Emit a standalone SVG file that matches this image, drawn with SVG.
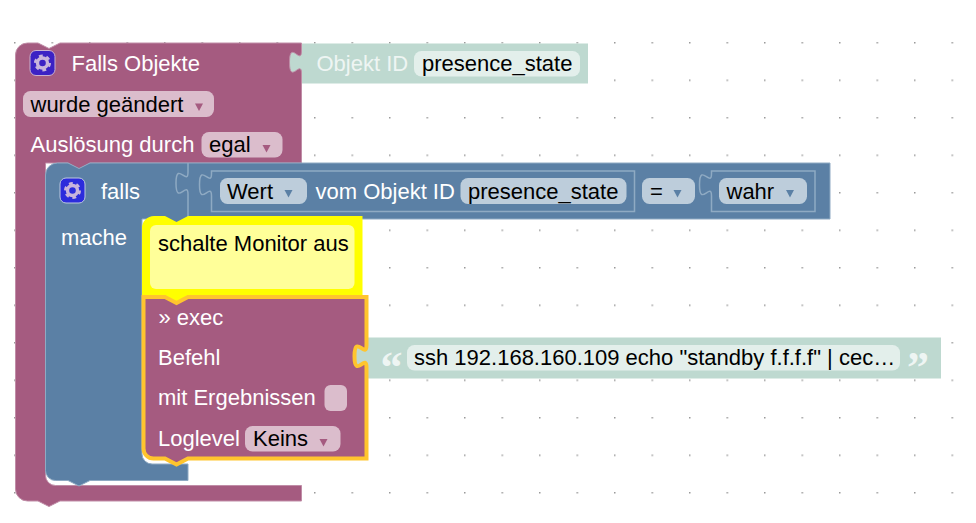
<svg xmlns="http://www.w3.org/2000/svg" width="976" height="523" viewBox="0 0 976 523">
<style>
text{font-family:"Liberation Sans",Arial,sans-serif;font-size:22px;fill:#000}
.w{fill:#fff}
.pf{fill:#dbbdcc}
.bf{fill:#bdcddb}
.gf{fill:#e3efeb}
.pa{fill:#a55b80}
.ba{fill:#5b80a5}
.hl{fill:none;stroke:#8faac3;stroke-width:1.5}
.q{font-family:"Liberation Serif",serif;font-weight:bold;font-size:44px;fill:#fff;opacity:.75}
</style>
<defs>
<pattern id="grid" x="14" y="42" width="37.5" height="37.5" patternUnits="userSpaceOnUse">
<rect x="0" y="0" width="1.5" height="1.5" fill="#999"/>
</pattern>
<g id="gear">
<circle r="5" fill="none" stroke="#c8b4dc" stroke-width="3.4"/>
<circle r="7.2" fill="none" stroke="#c8b4dc" stroke-width="2.6" stroke-dasharray="3.8 3.74"/>
</g>
</defs>
<rect id="grid-dots" x="14" y="42" width="940" height="453" fill="url(#grid)"/>

<g id="connectors"></g>

<g id="objekt-id">
<rect x="286" y="43.5" width="302" height="40" fill="#bed9d0"/>
<text x="316.5" y="71" class="w" opacity=".75">Objekt ID</text>
<rect x="414" y="51" width="166" height="25.5" rx="7.5" class="gf"/>
<text x="422" y="71">presence_state</text>
</g>

<g id="falls-objekte">
<path d="M15.5 55a12 12 0 0 1 12-12H38l11 5.500 11-5.500H301.500v8c0 15-12-12-12 11.250s12-3.750 12 11.250V163H90l-11 6-11-6H45.500V475.500a10 10 0 0 0 10 10H301.500V501H60l-11 5.500-11-5.500H27.500a12 12 0 0 1-12-12Z" fill="#a55b80" stroke="#c08da7" stroke-width="1"/>
<rect x="30" y="50.500" width="25" height="25" rx="6" fill="#3b22c4" stroke="#c8b0d0" stroke-width="1"/>
<use href="#gear" x="42.500" y="63"/>
<text x="71.500" y="71" class="w">Falls Objekte</text>
<rect x="23" y="91" width="191" height="26" rx="7.500" class="pf"/>
<text x="30.500" y="112">wurde geändert</text>
<path d="M195 103.500h8l-4 7.500Z" class="pa"/>
<text x="30.500" y="152" class="w">Auslösung durch</text>
<rect x="201.500" y="132" width="81" height="25.500" rx="7.500" class="pf"/>
<text x="209" y="152">egal</text>
<path d="M262.500 145h8l-4 7.500Z" class="pa"/>
</g>

<g id="falls">
<path d="M45.500 175a12 12 0 0 1 12-12H68l11 5.500 11-5.500H830V219H188l-11.500 6-11.500-6H142V454a10 10 0 0 0 10 10H188V480.500H90l-11 5.500-11-5.500H55.500a10 10 0 0 1-10-10Z" fill="#5b80a5" stroke="#8faac3" stroke-width="1"/>
<rect x="60" y="178" width="25" height="25" rx="6" fill="#2c2cdc" stroke="#bcc8e0" stroke-width="1"/>
<use href="#gear" x="72.500" y="190.500"/>
<text x="101" y="198.500" class="w">falls</text>
<text x="61" y="245" class="w">mache</text>
<path d="M188 163v9c0 15-12-12-12 11.250s12-3.750 12 11.250v24" class="hl"/>
<path d="M211.500 171H634.500V211.500H211.500V196c0-15-12 12-12-11.250s12 3.750 12-11.250Z" class="hl"/>
<rect x="220" y="178" width="87" height="26" rx="7.500" class="bf"/>
<text x="227" y="198.500">Wert</text>
<path d="M284.500 190h8l-4 7.500Z" class="ba"/>
<text x="315.500" y="198.500" class="w">vom Objekt ID</text>
<rect x="460.500" y="178" width="166" height="26" rx="7.500" class="bf"/>
<text x="468" y="198.500">presence_state</text>
<rect x="642" y="178" width="53" height="26" rx="7.500" class="bf"/>
<text x="650" y="198.500">=</text>
<path d="M673.500 190h8l-4 7.500Z" class="ba"/>
<path d="M711.500 171H815V211.500H711.500V196c0-15-12 12-12-11.250s12 3.750 12-11.250Z" class="hl"/>
<rect x="719" y="178" width="88" height="26" rx="7.500" class="bf"/>
<text x="726.500" y="198.500">wahr</text>
<path d="M786 190h8l-4 7.500Z" class="ba"/>
</g>

<g id="kommentar">
<path d="M142 228a12 12 0 0 1 12-12H165l11.500 6 11.500-6H362.500V297H188l-11.500 6-11.500-6H142Z" fill="#ffff00"/>
<rect x="150" y="225" width="204.500" height="64" rx="6" fill="#ffff99"/>
<text x="158" y="251">schalte Monitor aus</text>
</g>

<g id="ssh-text">
<rect x="350" y="337.500" width="591" height="41" fill="#bed9d0"/>
<text x="380.500" y="382" class="q">“</text>
<text x="907" y="382" class="q">”</text>
<rect x="407" y="345" width="493" height="25.500" rx="7.500" class="gf"/>
<text x="414" y="365">ssh 192.168.160.109 echo "standby f.f.f.f" | cec…</text>
</g>

<g id="exec">
<path d="M143.500 297H165l11.500 6 11.500-6H366.500V345c0 15-12-12-12 11.250s12-3.750 12 11.250V458.500H188l-11.500 6-11.500-6H153.500a10 10 0 0 1-10-10Z" fill="#a55b80" stroke="#ffc52e" stroke-width="4"/>
<text x="158.500" y="324.500" class="w">» exec</text>
<text x="158" y="364.500" class="w">Befehl</text>
<text x="158" y="405" class="w">mit Ergebnissen</text>
<rect x="324.500" y="385" width="22.500" height="26" rx="6" class="pf"/>
<text x="158" y="445.500" class="w">Loglevel</text>
<rect x="245" y="426" width="95.500" height="25.500" rx="7.500" class="pf"/>
<text x="253" y="446">Keins</text>
<path d="M319.500 439h8l-4 7.500Z" class="pa"/>
</g>
</svg>
